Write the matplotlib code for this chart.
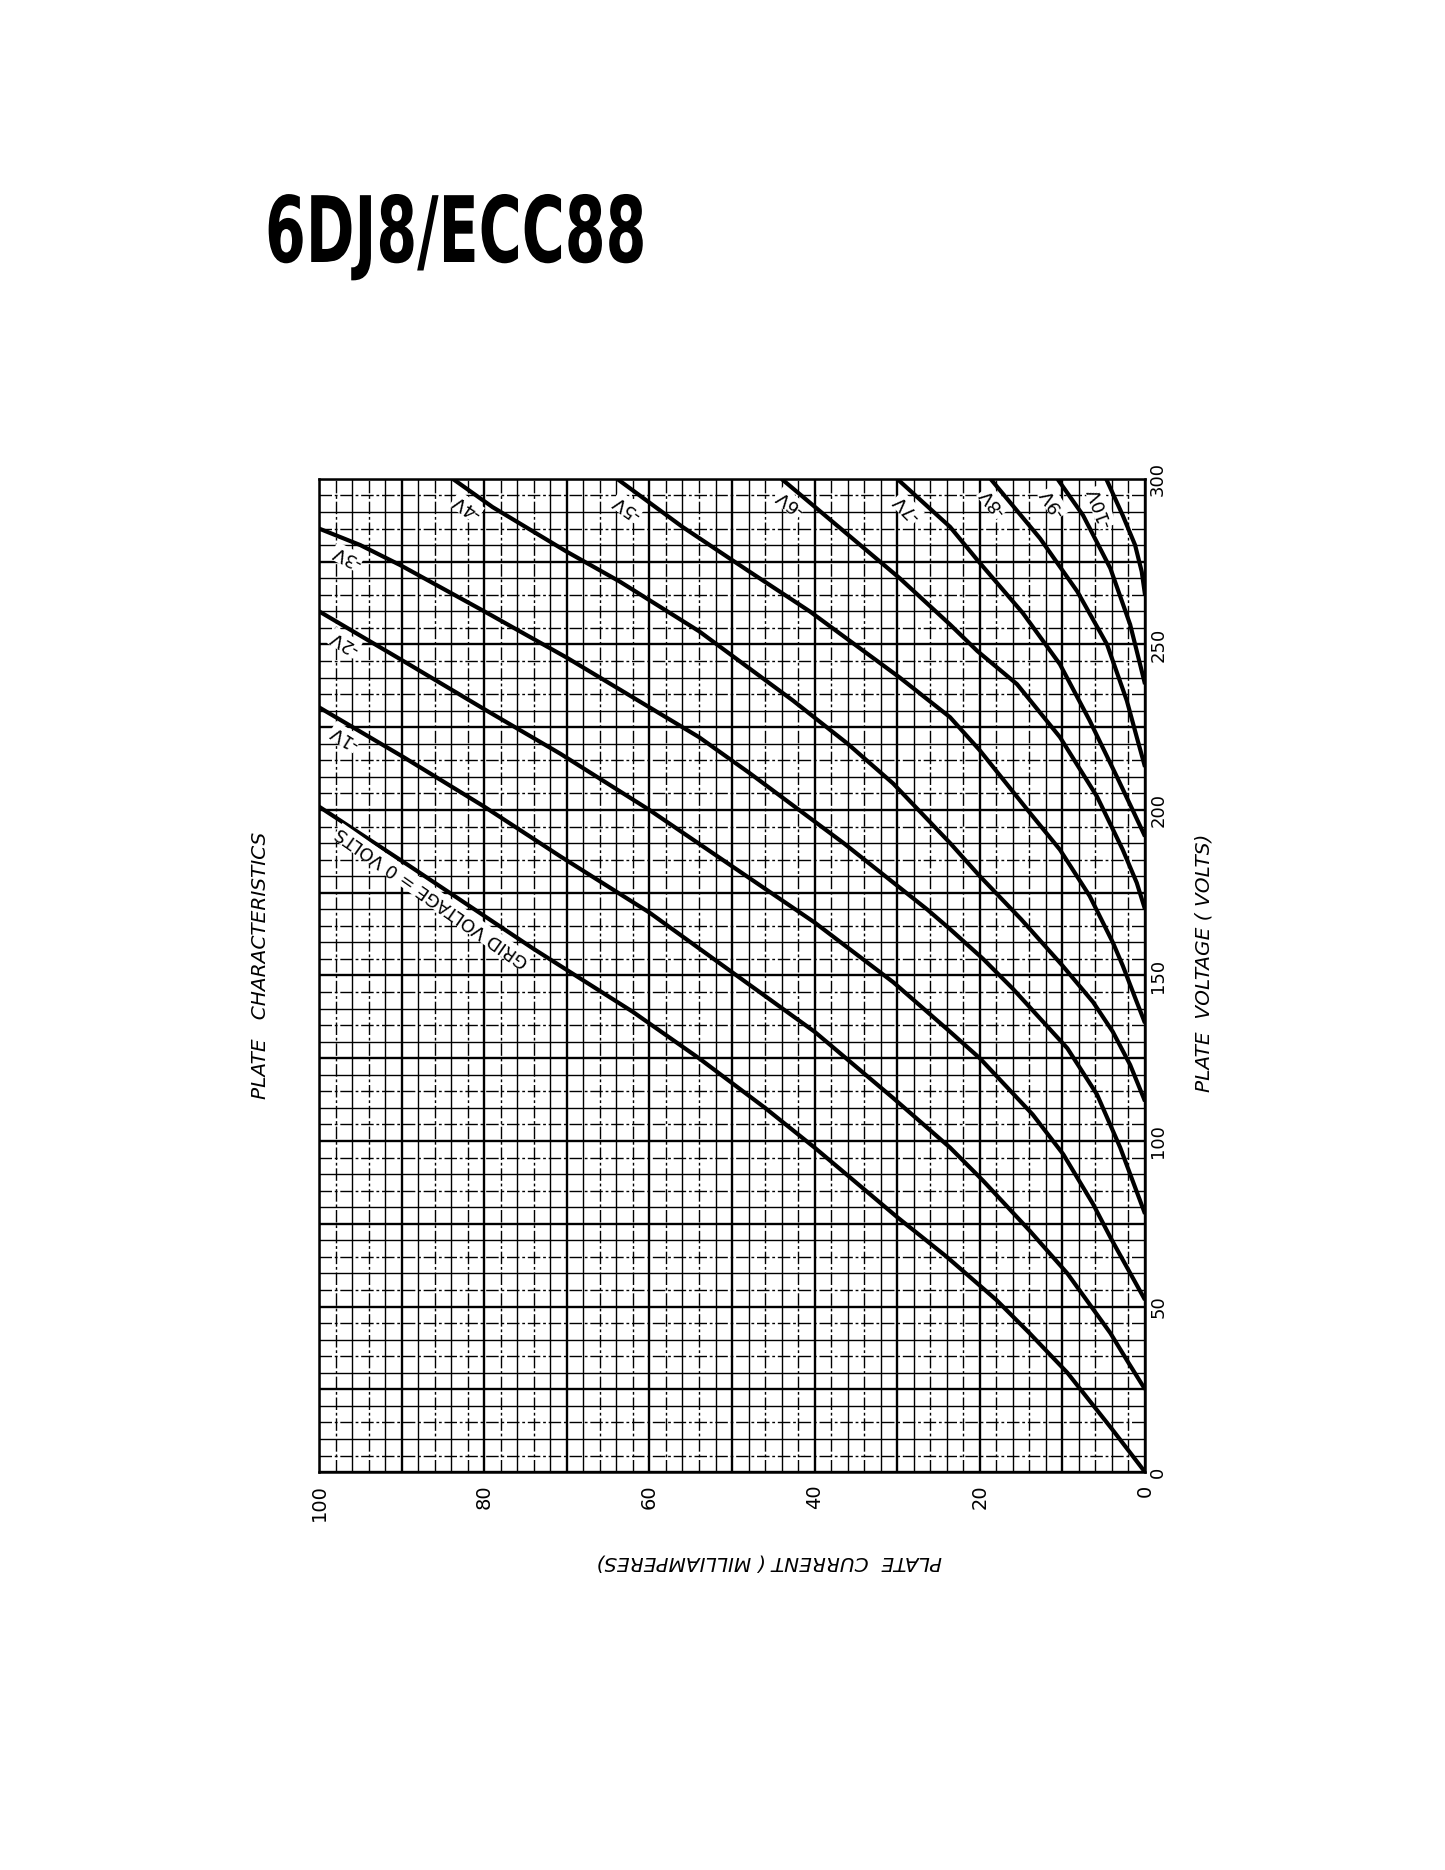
import matplotlib
matplotlib.use('Agg')
import matplotlib.pyplot as plt
import numpy as np
from matplotlib.patheffects import AbstractPathEffect
from matplotlib.transforms import Affine2D

# plate characteristics: plate current (mA) vs plate voltage (V)
grid_volts = [0, -1, -2, -3, -4, -5, -6, -7, -8, -9, -10]

ma_0 = [0, 4, 9.4, 14, 18, 24, 30, 40, 46, 54, 62, 74, 89, 100]
v_0 = [0, 13, 30, 42, 52, 65, 77, 98, 110, 125, 139, 158, 183, 201]

ma_1 = [0, 2, 4.2, 9.4, 14, 19.6, 23.6, 30.5, 40, 50, 60, 70.8, 80, 89.8, 100]
v_1 = [25, 33, 42, 60, 73, 88, 98, 113, 133, 151, 169, 186, 201, 216, 231]

ma_2 = [0, 2, 4, 6.3, 9.9, 13.6, 20, 23.6, 30.5, 40, 50, 60, 70.8, 79.7, 89.8, 100]
v_2 = [52, 61, 70, 81, 96, 108, 125, 133, 148, 166, 183, 200, 217, 230, 245, 260]

ma_3 = [0, 1.5, 3, 5.8, 9.4, 16, 19.6, 23.6, 26.4, 36.5, 47.8, 54, 62, 70, 80, 90.2, 95, 100]
v_3 = [78, 88, 98, 114, 128, 146, 155, 164, 170, 190, 211, 222, 234, 246, 260, 274, 280, 285]

ma_4 = [0, 1.8, 3.9, 6.3, 10, 15, 20, 23.6, 30.5, 36, 42.6, 54, 63.6, 70, 79, 83.8]
v_4 = [112, 123, 133, 142, 153, 167, 180, 190, 208, 220, 233, 254, 269, 278, 291.5, 300]

ma_5 = [0, 1, 2.7, 3.9, 6.7, 10.3, 13.9, 20, 23.6, 29.7, 40.6, 48.2, 56, 63.9]
v_5 = [135.6, 142, 153, 160, 174, 188, 199, 218, 228, 240, 260, 272.5, 285.5, 300]

ma_6 = [0, 1, 2.7, 5.8, 10.3, 15.5, 20.3, 23.6, 29.7, 37.8, 44]
v_6 = [170, 178, 188, 204, 222, 238, 248, 256, 270, 287, 300]

ma_7 = [0, 1.5, 3.4, 6.7, 10.3, 14.8, 20.3, 23.6, 30]
v_7 = [192, 200, 210, 227, 244, 259.5, 275.5, 285.5, 300]

ma_8 = [0, 1, 2.2, 4.6, 8.2, 12.7, 18.7]
v_8 = [213, 222, 233, 250, 266, 282, 300]

ma_9 = [0, 0.8, 1.8, 4.2, 7.5, 10.6]
v_9 = [238, 246, 256, 273, 289, 300]

ma_10 = [0, 0.4, 1.2, 2.7, 4.7]
v_10 = [265, 272, 280, 289, 300]

curve_ma = [ma_0, ma_1, ma_2, ma_3, ma_4, ma_5, ma_6, ma_7, ma_8, ma_9, ma_10]
curve_v = [v_0, v_1, v_2, v_3, v_4, v_5, v_6, v_7, v_8, v_9, v_10]

curve_labels = ['GRID VOLTAGE = 0 VOLTS', '-1V', '-2V', '-3V', '-4V', '-5V',
                '-6V', '-7V', '-8V', '-9V', '-10V']

current_ticks = [0, 20, 40, 60, 80, 100]
voltage_ticks = [0, 50, 100, 150, 200, 250, 300]

# where the curve names sit (mA, V) and how they are turned
label_at = [(86.3, 173.7), (96.9, 222), (96.9, 250.5), (96.6, 276.4), (82.1, 291.5),
            (62.7, 291.5), (43, 292.7), (28.8, 291.2), (18.4, 293), (11.1, 292.7), (5.4, 291.5)]
label_rot = [145, 148, 149, 153, 146, 145, 142, 135, 128, 122, 110]


class Squeeze(AbstractPathEffect):
    # narrows glyphs horizontally about x0 (pixels) to mimic a condensed face
    def __init__(self, sx, x0):
        super().__init__()
        self.sx = sx
        self.x0 = x0

    def draw_path(self, renderer, gc, tpath, affine, rgbFace=None):
        squeeze = Affine2D().translate(-self.x0, 0).scale(self.sx, 1).translate(self.x0, 0)
        renderer.draw_path(gc, tpath, affine + squeeze, rgbFace)


fig = plt.figure(figsize=(14.45, 18.70), dpi=100)
ax = fig.add_axes([0.2208, 0.2128, 0.5716, 0.5311])
ax.set_xlim(100, 0)
ax.set_ylim(0, 300)

# graph paper
for x in np.arange(0, 101, 2):
    if x % 10 == 0:
        ax.axvline(x, color='black', lw=1.7, zorder=1)
    elif (x // 2) % 2 == 1:
        ax.axvline(x, color='black', lw=1.0, ls=(0, (9, 2, 2, 2)), zorder=1)
    else:
        ax.axvline(x, color='black', lw=1.0, zorder=1)
for y in np.arange(0, 301, 5):
    if y % 25 == 0:
        ax.axhline(y, color='black', lw=1.7, zorder=1)
    elif (y // 5) % 2 == 1:
        ax.axhline(y, color='black', lw=1.0, ls=(0, (9, 2, 2, 2)), zorder=1)
    else:
        ax.axhline(y, color='black', lw=1.0, zorder=1)

for ma, v in zip(curve_ma, curve_v):
    ax.plot(ma, v, color='black', lw=3.0, solid_joinstyle='round',
            solid_capstyle='butt', zorder=3)

for i, lbl in enumerate(curve_labels):
    ax.text(label_at[i][0], label_at[i][1], lbl, rotation=label_rot[i],
            rotation_mode='anchor', ha='center', va='center',
            fontsize=13, color='black', zorder=4,
            bbox=dict(facecolor='white', edgecolor='none', pad=0.3))

ax.set_xticks(current_ticks)
ax.set_xticklabels([str(t) for t in current_ticks])
ax.set_yticks(voltage_ticks)
ax.set_yticklabels([str(t) for t in voltage_ticks])
ax.yaxis.tick_right()
ax.tick_params(axis='x', length=0, pad=9, labelrotation=90, labelsize=14)
ax.tick_params(axis='y', length=0, pad=3, labelrotation=90, labelsize=13)
for lab in ax.get_yticklabels():
    lab.set_va('center')
for s in ax.spines.values():
    s.set_linewidth(1.8)

title = fig.text(265 / 1445, 1 - 262 / 1870, '6DJ8/ECC88', fontsize=66, fontweight='bold',
                 family=['DejaVu Sans'], ha='left', va='baseline')
title.set_path_effects([Squeeze(0.64, 265)])

fig.text(260 / 1445, 1 - 965 / 1870, 'PLATE   CHARACTERISTICS', rotation=90,
         ha='center', va='center', fontsize=14.5, style='italic')
fig.text(1204 / 1445, 1 - 963 / 1870, 'PLATE  VOLTAGE ( VOLTS)', rotation=90,
         ha='center', va='center', fontsize=14.5, style='italic')
fig.text(769 / 1445, 1 - 1562 / 1870, 'PLATE  CURRENT ( MILLIAMPERES)', rotation=180,
         ha='center', va='center', fontsize=14.5, style='italic')

fig.savefig('out.png', dpi=100, facecolor='white')
